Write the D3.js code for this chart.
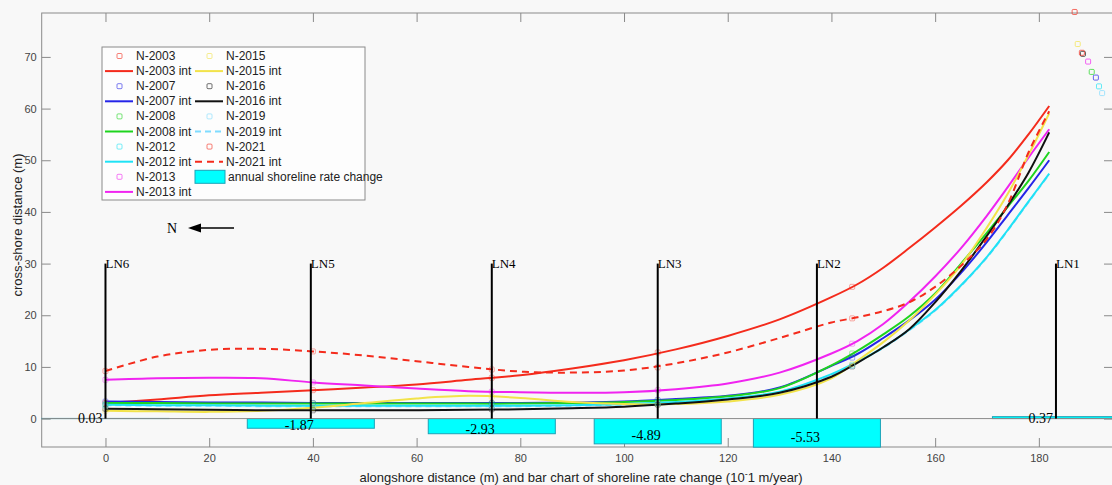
<!DOCTYPE html>
<html>
<head>
<meta charset="utf-8">
<script src="https://cdn.jsdelivr.net/npm/d3@7"></script>
<style>
body { margin: 0; background: #f8f8f8; }
svg { display: block; }
</style>
</head>
<body>
<div id="vis1"></div>
<script>

// alongshore positions of the interpolated curves
const xs = [0, 10, 20, 30, 40, 50, 60, 70, 80, 90, 100, 110, 120, 130, 140, 145, 150, 155, 160, 165, 170, 174, 178, 182];

// cross-shore distance for each survey (interpolated lines)
const n2003 = [3.0, 3.7, 4.5, 5.0, 5.5, 6.0, 6.6, 7.5, 8.4, 9.7, 11.3, 13.4, 16.0, 19.2, 23.5, 26.0, 29.2, 33.0, 37.0, 41.2, 45.8, 50.0, 55.0, 60.5];
const n2007 = [3.3, 3.2, 3.1, 3.1, 3.0, 3.0, 3.0, 3.0, 3.0, 3.1, 3.3, 3.8, 4.4, 6.0, 10.2, 12.5, 15.6, 19.0, 23.0, 28.2, 34.2, 39.4, 44.6, 50.0];
const n2008 = [3.0, 3.0, 2.9, 2.9, 2.9, 2.9, 2.9, 2.9, 2.9, 3.0, 3.2, 3.6, 4.3, 5.9, 10.3, 13.1, 16.3, 19.8, 24.2, 30.0, 36.0, 41.0, 46.0, 51.6];
const n2012 = [2.7, 2.6, 2.6, 2.5, 2.5, 2.5, 2.5, 2.5, 2.5, 2.6, 2.8, 3.2, 3.9, 5.2, 8.6, 11.0, 13.8, 17.2, 21.0, 25.8, 31.3, 36.5, 42.0, 47.4];
const n2013 = [7.5, 7.8, 7.9, 7.8, 7.0, 6.4, 5.8, 5.3, 5.1, 5.0, 5.1, 5.7, 6.8, 8.9, 12.6, 15.0, 18.3, 22.6, 27.5, 33.0, 39.3, 44.8, 50.5, 56.0];
const n2015 = [1.5, 1.4, 1.3, 1.5, 2.1, 3.0, 3.9, 4.4, 4.0, 3.2, 2.8, 2.8, 3.3, 4.6, 7.8, 11.2, 14.8, 19.0, 24.0, 29.7, 37.0, 43.5, 51.0, 59.1];
const n2016 = [1.9, 1.8, 1.7, 1.6, 1.6, 1.6, 1.6, 1.7, 1.8, 2.0, 2.3, 2.9, 3.7, 5.0, 8.1, 10.8, 13.8, 17.3, 22.5, 28.6, 35.4, 41.2, 47.6, 55.4];
const n2019 = [2.6, 2.5, 2.5, 2.4, 2.4, 2.4, 2.4, 2.4, 2.4, 2.5, 2.7, 3.1, 3.8, 5.1, 8.5, 10.9, 13.7, 17.1, 20.9, 25.7, 31.2, 36.4, 41.9, 47.3];
const n2021 = [9.2, 12.0, 13.3, 13.5, 13.0, 12.2, 11.1, 10.0, 9.1, 8.9, 9.3, 10.7, 12.8, 15.6, 18.6, 19.6, 20.8, 22.5, 25.5, 29.6, 34.8, 41.5, 51.5, 59.5];

// measured points near the transects
const mkX = [0, 40, 74.5, 106.5, 144];
const m2003 = [3.0, 5.5, 7.9, 12.8, 25.5];
const m2007 = [3.3, 3.0, 3.0, 3.6, 11.8];
const m2008 = [2.7, 2.9, 2.9, 3.3, 12.6];
const m2012 = [2.7, 2.5, 2.5, 3.1, 10.4];
const m2013 = [7.5, 7.0, 5.2, 5.5, 14.5];
const m2015 = [1.5, 2.1, 4.2, 2.8, 10.5];
const m2016 = [1.9, 1.6, 1.8, 2.7, 10.1];
const m2019 = [2.4, 2.3, 2.3, 2.9, 10.2];
const m2021 = [9.2, 13.0, 9.5, 9.9, 19.4];

// last measured point of each survey (beyond LN1)
const farX = [186.9, 191.0, 190.2, 191.6, 189.5, 187.5, 188.5, 192.2, 188.3];
const farY = [78.7, 66.0, 67.1, 64.3, 69.1, 72.5, 70.6, 63.0, 70.8];

const years = ["N-2003", "N-2007", "N-2008", "N-2012", "N-2013", "N-2015", "N-2016", "N-2019", "N-2021"];
const colors = ["#f42b1c", "#2525e8", "#1ed41e", "#1fe2f5", "#f024f0", "#f2e34a", "#111111", "#7fdcff", "#f42b1c"];
const dashes = [null, null, null, null, null, null, null, "6,4", "7,5"];

// transects and shoreline rate change (10^-1 m/year)
const transects = ["LN6", "LN5", "LN4", "LN3", "LN2", "LN1"];
const lnX = [0, 39.6, 74.5, 106.5, 137.2, 183.3];
const rates = [0.03, -1.87, -2.93, -4.89, -5.53, 0.37];

const xTicks = [0, 20, 40, 60, 80, 100, 120, 140, 160, 180];
const yTicks = [0, 10, 20, 30, 40, 50, 60, 70];

const WIDTH = 1112;
const HEIGHT = 485;
const MARG = {left: 41.7, right: -1, top: 13, bottom: 38};

const SANS = "'Liberation Sans', Arial, sans-serif";
const SERIF = "'Liberation Serif', 'Times New Roman', serif";

const FRAME =
d3.select("#vis1")
    .append("svg")
        .attr("width", WIDTH)
        .attr("height", HEIGHT);

const X_SCALE = d3.scaleLinear().domain([-12.3, 194.3]).range([MARG.left, WIDTH - MARG.right]);
const Y_SCALE = d3.scaleLinear().domain([-5.5, 78.5]).range([HEIGHT - MARG.bottom, MARG.top]);

const series = years.map((name, i) => ({
    name: name,
    ys: [n2003, n2007, n2008, n2012, n2013, n2015, n2016, n2019, n2021][i],
    ms: [m2003, m2007, m2008, m2012, m2013, m2015, m2016, m2019, m2021][i],
    fx: farX[i], fy: farY[i],
    color: colors[i], dash: dashes[i]
}));

// axes box + ticks
const x0 = X_SCALE.range()[0], x1 = X_SCALE.range()[1];
const y0 = Y_SCALE.range()[0], y1 = Y_SCALE.range()[1];

FRAME.append("rect")
    .attr("x", x0).attr("y", y1)
    .attr("width", x1 - x0).attr("height", y0 - y1)
    .attr("fill", "#f8f8f8").attr("stroke", "#8a8a8a");

function styleAxis(g) {
    g.select(".domain").remove();
    g.selectAll(".tick line").attr("stroke", "#8a8a8a");
    g.selectAll(".tick text").attr("fill", "#444").style("font", "11px " + SANS);
}

FRAME.append("g").attr("transform", "translate(0," + y0 + ")")
    .call(d3.axisBottom(X_SCALE).tickValues(xTicks).tickSizeInner(-9).tickSizeOuter(0).tickPadding(7))
    .call(styleAxis);
FRAME.append("g").attr("transform", "translate(0," + y1 + ")")
    .call(d3.axisTop(X_SCALE).tickValues(xTicks).tickSizeInner(-9).tickSizeOuter(0).tickFormat(""))
    .call(styleAxis);
FRAME.append("g").attr("transform", "translate(" + x0 + ",0)")
    .call(d3.axisLeft(Y_SCALE).tickValues(yTicks).tickSizeInner(-9).tickSizeOuter(0).tickPadding(5))
    .call(styleAxis);
FRAME.append("g").attr("transform", "translate(" + x1 + ",0)")
    .call(d3.axisRight(Y_SCALE).tickValues(yTicks).tickSizeInner(-9).tickSizeOuter(0).tickFormat(""))
    .call(styleAxis);

// bar chart of rate change, centred on the transects
const BAR_W = 24.5;
FRAME.selectAll(".bar")
    .data(rates)
    .enter().append("rect")
    .attr("class", "bar")
    .attr("x", (d, i) => X_SCALE(lnX[i] - BAR_W / 2))
    .attr("width", (d, i) => X_SCALE(lnX[i] + BAR_W / 2) - X_SCALE(lnX[i] - BAR_W / 2))
    .attr("y", d => Y_SCALE(Math.max(d, 0)))
    .attr("height", d => Math.abs(Y_SCALE(d) - Y_SCALE(0)))
    .attr("fill", "#00ffff")
    .attr("stroke", "#1ba3b8");

// bar base line
FRAME.append("line")
    .attr("x1", x0).attr("x2", x1)
    .attr("y1", Y_SCALE(0)).attr("y2", Y_SCALE(0))
    .attr("stroke", "#8a8a8a");

// interpolated shorelines
const line = d3.line()
    .x((d, i) => X_SCALE(xs[i]))
    .y(d => Y_SCALE(d))
    .curve(d3.curveCatmullRom.alpha(0.5));

const drawOrder = [7, 0, 1, 2, 3, 4, 5, 6, 8];
drawOrder.forEach(i => {
    const s = series[i];
    FRAME.append("path")
        .attr("d", line(s.ys))
        .attr("fill", "none")
        .attr("stroke", s.color)
        .attr("stroke-width", 2)
        .attr("stroke-dasharray", s.dash);
});

// measured points
series.forEach(s => {
    const pts = s.ms.map((v, j) => [mkX[j], v, 0.4]).concat([[s.fx, s.fy, 0.7]]);
    FRAME.selectAll(null)
        .data(pts)
        .enter().append("rect")
        .attr("x", d => X_SCALE(d[0]) - 2.5)
        .attr("y", d => Y_SCALE(d[1]) - 2.5)
        .attr("width", 5).attr("height", 5)
        .attr("rx", 1)
        .attr("fill", "none")
        .attr("stroke", s.color)
        .attr("stroke-width", 1)
        .attr("opacity", d => d[2]);
});

// transect lines
FRAME.selectAll(".ln")
    .data(lnX)
    .enter().append("line")
    .attr("class", "ln")
    .attr("x1", d => X_SCALE(d)).attr("x2", d => X_SCALE(d))
    .attr("y1", Y_SCALE(0)).attr("y2", Y_SCALE(30))
    .attr("stroke", "#000")
    .attr("stroke-width", 2);

FRAME.selectAll(".lnlab")
    .data(transects)
    .enter().append("text")
    .attr("class", "lnlab")
    .attr("x", (d, i) => X_SCALE(lnX[i]))
    .attr("y", Y_SCALE(30))
    .attr("dominant-baseline", "central")
    .style("font", "13px " + SERIF)
    .text(d => d);

// rate labels
FRAME.selectAll(".rlab")
    .data(rates)
    .enter().append("text")
    .attr("class", "rlab")
    .attr("x", (d, i) => X_SCALE(lnX[i]) + (d < 0 ? 3 : -3))
    .attr("y", d => Y_SCALE(d < 0 ? d * 0.6 - 0.3 : 0))
    .attr("text-anchor", "end")
    .attr("dominant-baseline", "central")
    .style("font", "14px " + SERIF)
    .text(d => d.toFixed(2));

// legend
const LEG = {x: 102, y: 47, w: 263, h: 153, row: 15.1};
const legend = FRAME.append("g");
legend.append("rect")
    .attr("x", LEG.x).attr("y", LEG.y)
    .attr("width", LEG.w).attr("height", LEG.h)
    .attr("fill", "#fdfdfd").attr("stroke", "#8a8a8a");

function legendEntry(s, col, row) {
    const lx = col === 0 ? 105 : 195;
    const ty = LEG.y + 9 + row * LEG.row;
    const t1 = ty + LEG.row;
    legend.append("rect")
        .attr("x", lx + 12).attr("y", ty - 2.5)
        .attr("width", 5).attr("height", 5).attr("rx", 1)
        .attr("fill", "none").attr("stroke", s.color).attr("opacity", 0.6);
    legend.append("text").attr("x", lx + 31).attr("y", ty)
        .attr("dominant-baseline", "central")
        .style("font", "12px " + SANS).attr("fill", "#222").text(s.name);
    legend.append("line")
        .attr("x1", lx).attr("x2", lx + 28).attr("y1", t1).attr("y2", t1)
        .attr("stroke", s.color).attr("stroke-width", 2)
        .attr("stroke-dasharray", s.dash);
    legend.append("text").attr("x", lx + 31).attr("y", t1)
        .attr("dominant-baseline", "central")
        .style("font", "12px " + SANS).attr("fill", "#222").text(s.name + " int");
}
series.slice(0, 5).forEach((s, i) => legendEntry(s, 0, i * 2));
series.slice(5).forEach((s, i) => legendEntry(s, 1, i * 2));

const barRowY = LEG.y + 9 + 8 * LEG.row;
legend.append("rect")
    .attr("x", 195).attr("y", barRowY - 6.5)
    .attr("width", 30).attr("height", 13)
    .attr("fill", "#00ffff").attr("stroke", "#1ba3b8");
legend.append("text").attr("x", 228).attr("y", barRowY)
    .attr("dominant-baseline", "central")
    .style("font", "12px " + SANS).attr("fill", "#222")
    .text("annual shoreline rate change");

// north arrow
FRAME.append("text")
    .attr("x", 172).attr("y", 228)
    .attr("text-anchor", "middle").attr("dominant-baseline", "central")
    .style("font", "14px " + SERIF)
    .text("N");
FRAME.append("line")
    .attr("x1", 198).attr("x2", 234).attr("y1", 228).attr("y2", 228)
    .attr("stroke", "#000").attr("stroke-width", 1.5);
FRAME.append("path")
    .attr("d", "M188,228 L201,223.5 L201,232.5 Z")
    .attr("fill", "#000");

// axis titles
FRAME.append("text")
    .attr("transform", "translate(17,225) rotate(-90)")
    .attr("text-anchor", "middle").attr("dominant-baseline", "central")
    .style("font", "13px " + SANS).attr("fill", "#222")
    .text("cross-shore distance (m)");

const xt = FRAME.append("text")
    .attr("x", 581).attr("y", 482)
    .attr("text-anchor", "middle")
    .style("font", "13px " + SANS).attr("fill", "#222");
xt.append("tspan").text("alongshore distance (m) and bar chart of shoreline rate change (10");
xt.append("tspan").attr("dy", -5).style("font-size", "9px").text("-");
xt.append("tspan").attr("dy", 5).text("1 m/year)");

</script>
</body>
</html>
